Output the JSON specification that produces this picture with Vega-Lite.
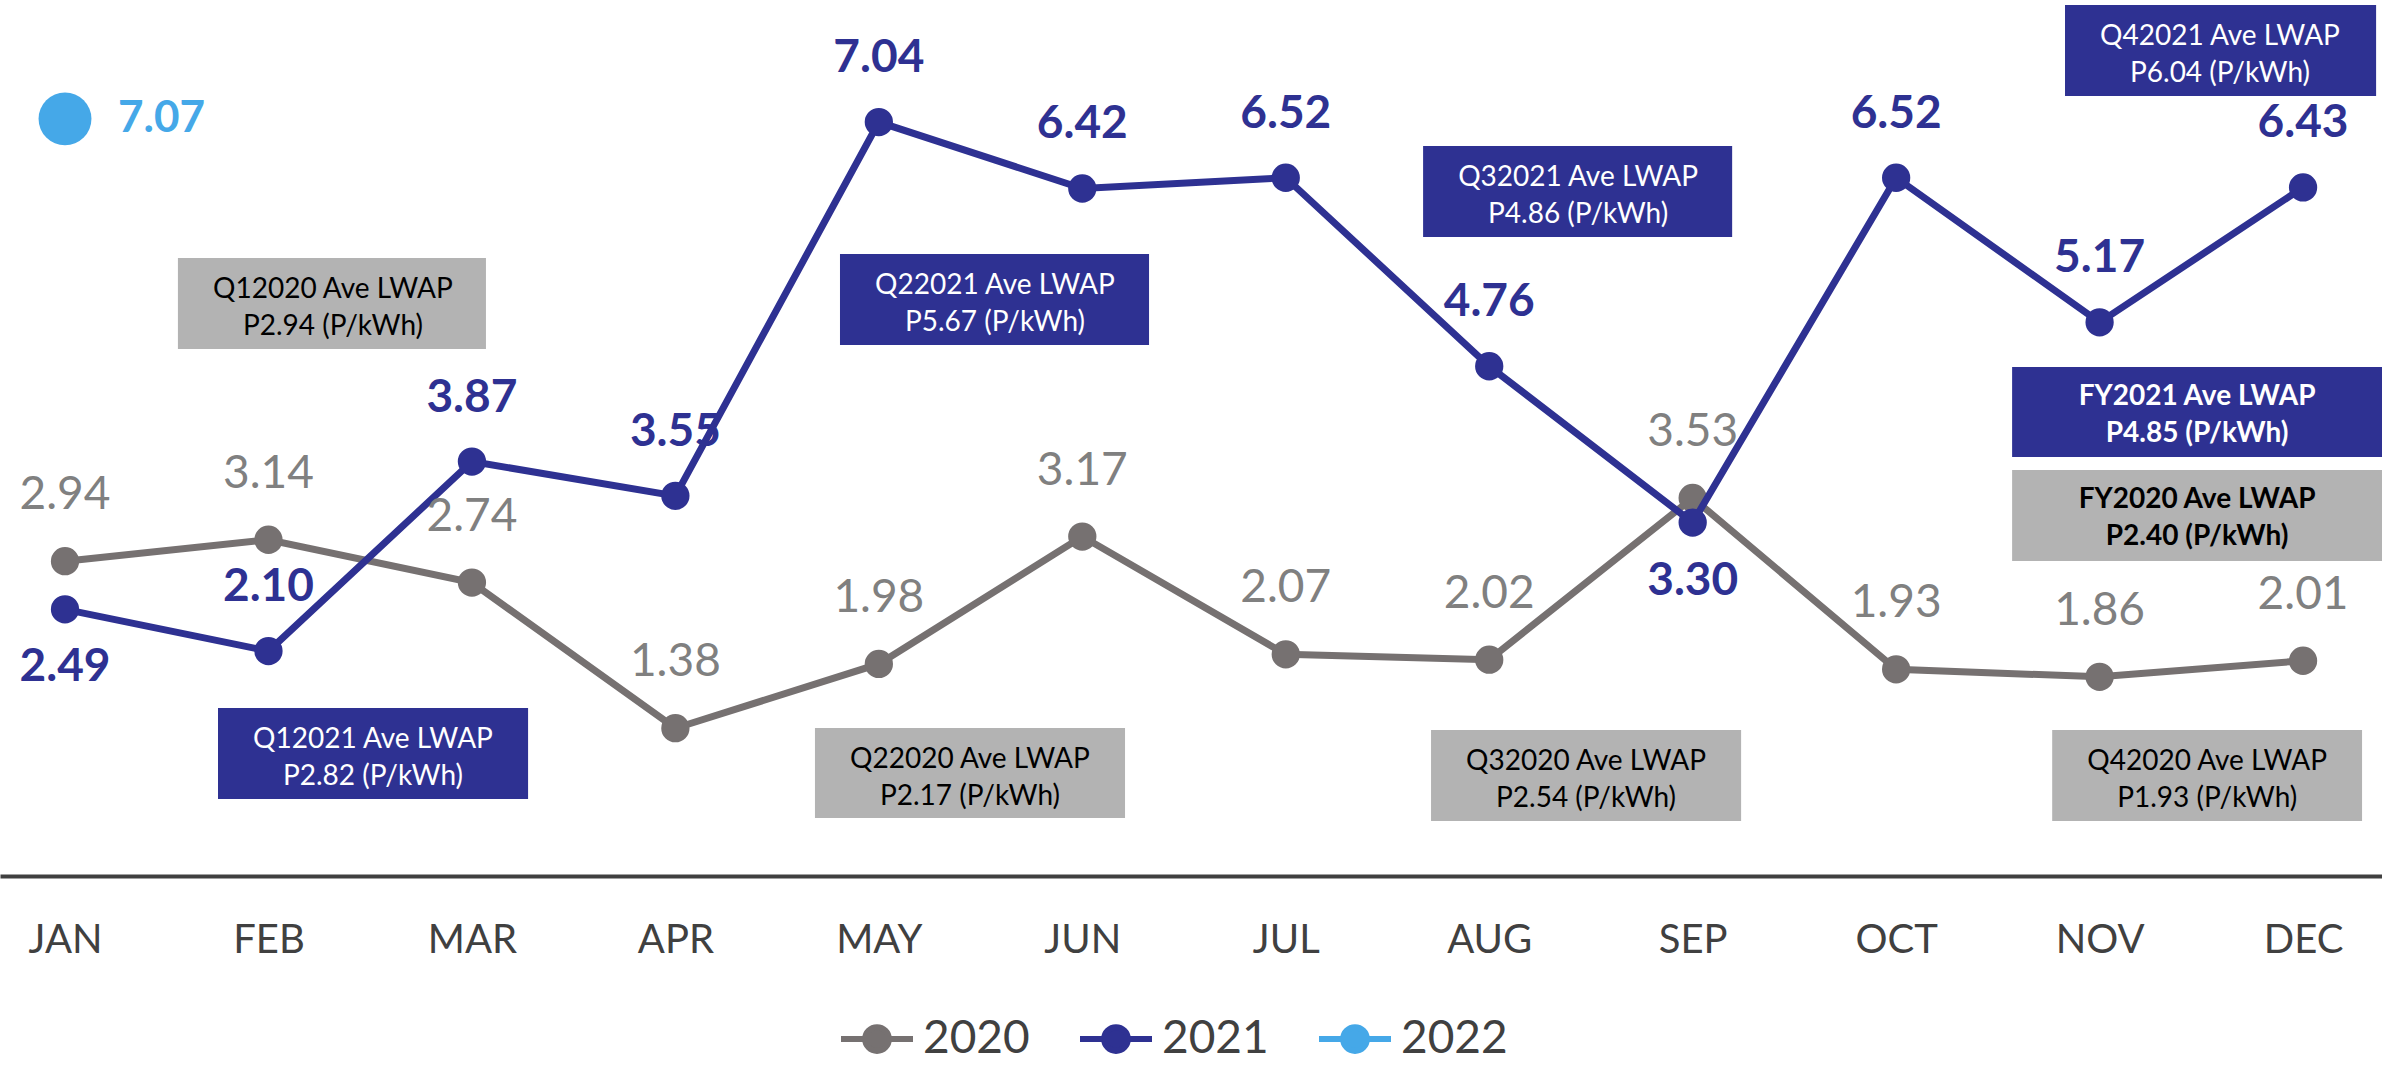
{
  "$schema": "https://vega.github.io/schema/vega-lite/v6.json",
  "width": 2382,
  "height": 876,
  "autosize": {"type": "none"},
  "padding": {"left": 0, "top": 0, "right": 0, "bottom": 191},
  "background": "white",
  "config": {
    "view": {"stroke": null},
    "font": "Lato",
    "axisX": {"ticks": false, "tickSize": 0, "grid": false, "domainColor": "#404040", "domainWidth": 4, "labelFontSize": 40, "labelColor": "#404040", "labelPadding": 64, "labelBaseline": "middle", "labelFont": "Lato"}
  },
  "datasets": {
    "series": [
      {"year": "2020", "m": 1, "v": 2.94}, {"year": "2020", "m": 2, "v": 3.14}, {"year": "2020", "m": 3, "v": 2.74},
      {"year": "2020", "m": 4, "v": 1.38}, {"year": "2020", "m": 5, "v": 1.98}, {"year": "2020", "m": 6, "v": 3.17},
      {"year": "2020", "m": 7, "v": 2.07}, {"year": "2020", "m": 8, "v": 2.02}, {"year": "2020", "m": 9, "v": 3.53},
      {"year": "2020", "m": 10, "v": 1.93}, {"year": "2020", "m": 11, "v": 1.86}, {"year": "2020", "m": 12, "v": 2.01},
      {"year": "2021", "m": 1, "v": 2.49}, {"year": "2021", "m": 2, "v": 2.10}, {"year": "2021", "m": 3, "v": 3.87},
      {"year": "2021", "m": 4, "v": 3.55}, {"year": "2021", "m": 5, "v": 7.04}, {"year": "2021", "m": 6, "v": 6.42},
      {"year": "2021", "m": 7, "v": 6.52}, {"year": "2021", "m": 8, "v": 4.76}, {"year": "2021", "m": 9, "v": 3.30},
      {"year": "2021", "m": 10, "v": 6.52}, {"year": "2021", "m": 11, "v": 5.17}, {"year": "2021", "m": 12, "v": 6.43},
      {"year": "2022", "m": 1, "v": 7.07}
    ],
    "boxes": [
      {"kind": "2020", "period": "Q", "label": "Q12020 Ave LWAP\nP2.94 (P/kWh)", "x1": 1.555, "x2": 3.069, "y1": 5.77, "y2": 4.92},
      {"kind": "2021", "period": "Q", "label": "Q12021 Ave LWAP\nP2.82 (P/kWh)", "x1": 1.752, "x2": 3.276, "y1": 1.569, "y2": 0.719},
      {"kind": "2020", "period": "Q", "label": "Q22020 Ave LWAP\nP2.17 (P/kWh)", "x1": 4.686, "x2": 6.21, "y1": 1.382, "y2": 0.542},
      {"kind": "2021", "period": "Q", "label": "Q22021 Ave LWAP\nP5.67 (P/kWh)", "x1": 4.809, "x2": 6.328, "y1": 5.808, "y2": 4.958},
      {"kind": "2020", "period": "Q", "label": "Q32020 Ave LWAP\nP2.54 (P/kWh)", "x1": 7.714, "x2": 9.238, "y1": 1.363, "y2": 0.514},
      {"kind": "2021", "period": "Q", "label": "Q32021 Ave LWAP\nP4.86 (P/kWh)", "x1": 7.675, "x2": 9.194, "y1": 6.816, "y2": 5.966},
      {"kind": "2020", "period": "Q", "label": "Q42020 Ave LWAP\nP1.93 (P/kWh)", "x1": 10.767, "x2": 12.29, "y1": 1.363, "y2": 0.514},
      {"kind": "2021", "period": "Q", "label": "Q42021 Ave LWAP\nP6.04 (P/kWh)", "x1": 10.83, "x2": 12.359, "y1": 8.133, "y2": 7.283},
      {"kind": "2021", "period": "FY", "label": "FY2021 Ave LWAP\nP4.85 (P/kWh)", "x1": 10.57, "x2": 12.388, "y1": 4.753, "y2": 3.912},
      {"kind": "2020", "period": "FY", "label": "FY2020 Ave LWAP\nP2.40 (P/kWh)", "x1": 10.57, "x2": 12.388, "y1": 3.791, "y2": 2.941}
    ]
  },
  "layer": [
    {
      "data": {"name": "boxes"},
      "mark": {"type": "rect"},
      "encoding": {
        "x": {"field": "x1", "type": "quantitative", "scale": {"domain": [0.6805, 12.388], "nice": false, "zero": false}, "axis": {"values": [1,2,3,4,5,6,7,8,9,10,11,12], "labelExpr": "['JAN','FEB','MAR','APR','MAY','JUN','JUL','AUG','SEP','OCT','NOV','DEC'][datum.value-1]", "title": null}},
        "x2": {"field": "x2"},
        "y": {"field": "y1", "type": "quantitative", "scale": {"domain": [0, 8.18], "nice": false, "zero": false}, "axis": null},
        "y2": {"field": "y2"},
        "color": {"condition": {"test": "datum.kind == '2021'", "value": "#2E3192"}, "value": "#B3B3B3"}
      }
    },
    {
      "data": {"name": "boxes"},
      "transform": [{"filter": "datum.period == 'Q'"}],
      "mark": {"type": "text", "fontSize": 28, "lineHeight": 37, "lineBreak": "\n", "align": "center", "baseline": "middle", "font": "Lato", "dx": 155, "dy": 32},
      "encoding": {
        "x": {"field": "x1", "type": "quantitative", "scale": {"domain": [0.6805, 12.388], "nice": false, "zero": false}, "axis": {"values": [1,2,3,4,5,6,7,8,9,10,11,12], "labelExpr": "['JAN','FEB','MAR','APR','MAY','JUN','JUL','AUG','SEP','OCT','NOV','DEC'][datum.value-1]", "title": null}},
        "y": {"field": "y1", "type": "quantitative", "scale": {"domain": [0, 8.18], "nice": false, "zero": false}, "axis": null},
        "text": {"field": "label"},
        "color": {"condition": {"test": "datum.kind == '2021'", "value": "white"}, "value": "black"}
      }
    },
    {
      "data": {"name": "boxes"},
      "transform": [{"filter": "datum.period == 'FY'"}],
      "mark": {"type": "text", "fontSize": 28, "fontWeight": "bold", "lineHeight": 37, "lineBreak": "\n", "align": "center", "baseline": "middle", "font": "Lato", "dx": 185, "dy": 30},
      "encoding": {
        "x": {"field": "x1", "type": "quantitative", "scale": {"domain": [0.6805, 12.388], "nice": false, "zero": false}, "axis": {"values": [1,2,3,4,5,6,7,8,9,10,11,12], "labelExpr": "['JAN','FEB','MAR','APR','MAY','JUN','JUL','AUG','SEP','OCT','NOV','DEC'][datum.value-1]", "title": null}},
        "y": {"field": "y1", "type": "quantitative", "scale": {"domain": [0, 8.18], "nice": false, "zero": false}, "axis": null},
        "text": {"field": "label"},
        "color": {"condition": {"test": "datum.kind == '2021'", "value": "white"}, "value": "black"}
      }
    },
    {
      "data": {"name": "series"},
      "transform": [{"filter": "datum.year == '2020'"}],
      "mark": {"type": "line", "strokeWidth": 7},
      "encoding": {
        "x": {"field": "m", "type": "quantitative", "scale": {"domain": [0.6805, 12.388], "nice": false, "zero": false}, "axis": {"values": [1,2,3,4,5,6,7,8,9,10,11,12], "labelExpr": "['JAN','FEB','MAR','APR','MAY','JUN','JUL','AUG','SEP','OCT','NOV','DEC'][datum.value-1]", "title": null}},
        "y": {"field": "v", "type": "quantitative", "scale": {"domain": [0, 8.18], "nice": false, "zero": false}, "axis": null},
        "color": {"field": "year", "type": "nominal", "scale": {"domain": ["2020", "2021", "2022"], "range": ["#767171", "#2E3192", "#45A8E8"]},
          "legend": {"orient": "none", "legendX": 838, "legendY": 1000, "direction": "horizontal", "title": null, "symbolType": "M-1,0H1M-0.33,0A0.33,0.33,0,1,1,0.33,0A0.33,0.33,0,1,1,-0.33,0Z", "symbolSize": 5184, "symbolStrokeWidth": 6, "labelFontSize": 46, "labelColor": "#404040", "labelFont": "Lato", "labelOffset": 7, "columnPadding": 38, "labelLimit": 400, "padding": 0,
            "encode": {"symbols": {"update": {"fill": {"scale": "color", "field": "value"}, "stroke": {"scale": "color", "field": "value"}, "strokeWidth": {"value": 6}, "opacity": {"value": 1}}}}}}
      }
    },
    {
      "data": {"name": "series"},
      "transform": [{"filter": "datum.year == '2020'"}],
      "mark": {"type": "circle", "size": 800, "opacity": 1},
      "encoding": {
        "x": {"field": "m", "type": "quantitative", "scale": {"domain": [0.6805, 12.388], "nice": false, "zero": false}, "axis": {"values": [1,2,3,4,5,6,7,8,9,10,11,12], "labelExpr": "['JAN','FEB','MAR','APR','MAY','JUN','JUL','AUG','SEP','OCT','NOV','DEC'][datum.value-1]", "title": null}},
        "y": {"field": "v", "type": "quantitative", "scale": {"domain": [0, 8.18], "nice": false, "zero": false}, "axis": null},
        "color": {"field": "year", "type": "nominal", "scale": {"domain": ["2020", "2021", "2022"], "range": ["#767171", "#2E3192", "#45A8E8"]},
          "legend": {"orient": "none", "legendX": 838, "legendY": 1000, "direction": "horizontal", "title": null, "symbolType": "M-1,0H1M-0.33,0A0.33,0.33,0,1,1,0.33,0A0.33,0.33,0,1,1,-0.33,0Z", "symbolSize": 5184, "symbolStrokeWidth": 6, "labelFontSize": 46, "labelColor": "#404040", "labelFont": "Lato", "labelOffset": 7, "columnPadding": 38, "labelLimit": 400, "padding": 0,
            "encode": {"symbols": {"update": {"fill": {"scale": "color", "field": "value"}, "stroke": {"scale": "color", "field": "value"}, "strokeWidth": {"value": 6}, "opacity": {"value": 1}}}}}}
      }
    },
    {
      "data": {"name": "series"},
      "transform": [{"filter": "datum.year == '2021'"}],
      "mark": {"type": "line", "strokeWidth": 7},
      "encoding": {
        "x": {"field": "m", "type": "quantitative", "scale": {"domain": [0.6805, 12.388], "nice": false, "zero": false}, "axis": {"values": [1,2,3,4,5,6,7,8,9,10,11,12], "labelExpr": "['JAN','FEB','MAR','APR','MAY','JUN','JUL','AUG','SEP','OCT','NOV','DEC'][datum.value-1]", "title": null}},
        "y": {"field": "v", "type": "quantitative", "scale": {"domain": [0, 8.18], "nice": false, "zero": false}, "axis": null},
        "color": {"field": "year", "type": "nominal", "scale": {"domain": ["2020", "2021", "2022"], "range": ["#767171", "#2E3192", "#45A8E8"]},
          "legend": {"orient": "none", "legendX": 838, "legendY": 1000, "direction": "horizontal", "title": null, "symbolType": "M-1,0H1M-0.33,0A0.33,0.33,0,1,1,0.33,0A0.33,0.33,0,1,1,-0.33,0Z", "symbolSize": 5184, "symbolStrokeWidth": 6, "labelFontSize": 46, "labelColor": "#404040", "labelFont": "Lato", "labelOffset": 7, "columnPadding": 38, "labelLimit": 400, "padding": 0,
            "encode": {"symbols": {"update": {"fill": {"scale": "color", "field": "value"}, "stroke": {"scale": "color", "field": "value"}, "strokeWidth": {"value": 6}, "opacity": {"value": 1}}}}}}
      }
    },
    {
      "data": {"name": "series"},
      "transform": [{"filter": "datum.year != '2020'"}],
      "mark": {"type": "circle", "opacity": 1},
      "encoding": {
        "x": {"field": "m", "type": "quantitative", "scale": {"domain": [0.6805, 12.388], "nice": false, "zero": false}, "axis": {"values": [1,2,3,4,5,6,7,8,9,10,11,12], "labelExpr": "['JAN','FEB','MAR','APR','MAY','JUN','JUL','AUG','SEP','OCT','NOV','DEC'][datum.value-1]", "title": null}},
        "y": {"field": "v", "type": "quantitative", "scale": {"domain": [0, 8.18], "nice": false, "zero": false}, "axis": null},
        "size": {"condition": {"test": "datum.year == '2022'", "value": 2800}, "value": 800},
        "color": {"field": "year", "type": "nominal", "scale": {"domain": ["2020", "2021", "2022"], "range": ["#767171", "#2E3192", "#45A8E8"]},
          "legend": {"orient": "none", "legendX": 838, "legendY": 1000, "direction": "horizontal", "title": null, "symbolType": "M-1,0H1M-0.33,0A0.33,0.33,0,1,1,0.33,0A0.33,0.33,0,1,1,-0.33,0Z", "symbolSize": 5184, "symbolStrokeWidth": 6, "labelFontSize": 46, "labelColor": "#404040", "labelFont": "Lato", "labelOffset": 7, "columnPadding": 38, "labelLimit": 400, "padding": 0,
            "encode": {"symbols": {"update": {"fill": {"scale": "color", "field": "value"}, "stroke": {"scale": "color", "field": "value"}, "strokeWidth": {"value": 6}, "opacity": {"value": 1}}}}}}
      }
    },
    {
      "data": {"name": "series"},
      "transform": [{"filter": "datum.year == '2020'"}],
      "mark": {"type": "text", "fontSize": 46, "color": "#808080", "dy": -66, "align": "center", "baseline": "middle", "font": "Lato"},
      "encoding": {
        "x": {"field": "m", "type": "quantitative", "scale": {"domain": [0.6805, 12.388], "nice": false, "zero": false}, "axis": {"values": [1,2,3,4,5,6,7,8,9,10,11,12], "labelExpr": "['JAN','FEB','MAR','APR','MAY','JUN','JUL','AUG','SEP','OCT','NOV','DEC'][datum.value-1]", "title": null}},
        "y": {"field": "v", "type": "quantitative", "scale": {"domain": [0, 8.18], "nice": false, "zero": false}, "axis": null},
        "text": {"field": "v", "type": "quantitative", "format": ".2f"}
      }
    },
    {
      "data": {"name": "series"},
      "transform": [{"filter": "datum.year == '2021' && datum.m != 1 && datum.m != 9"}],
      "mark": {"type": "text", "fontSize": 46, "fontWeight": "bold", "color": "#2E3192", "dy": -64, "align": "center", "baseline": "middle", "font": "Lato"},
      "encoding": {
        "x": {"field": "m", "type": "quantitative", "scale": {"domain": [0.6805, 12.388], "nice": false, "zero": false}, "axis": {"values": [1,2,3,4,5,6,7,8,9,10,11,12], "labelExpr": "['JAN','FEB','MAR','APR','MAY','JUN','JUL','AUG','SEP','OCT','NOV','DEC'][datum.value-1]", "title": null}},
        "y": {"field": "v", "type": "quantitative", "scale": {"domain": [0, 8.18], "nice": false, "zero": false}, "axis": null},
        "text": {"field": "v", "type": "quantitative", "format": ".2f"}
      }
    },
    {
      "data": {"name": "series"},
      "transform": [{"filter": "datum.year == '2021' && (datum.m == 1 || datum.m == 9)"}],
      "mark": {"type": "text", "fontSize": 46, "fontWeight": "bold", "color": "#2E3192", "dy": 58, "align": "center", "baseline": "middle", "font": "Lato"},
      "encoding": {
        "x": {"field": "m", "type": "quantitative", "scale": {"domain": [0.6805, 12.388], "nice": false, "zero": false}, "axis": {"values": [1,2,3,4,5,6,7,8,9,10,11,12], "labelExpr": "['JAN','FEB','MAR','APR','MAY','JUN','JUL','AUG','SEP','OCT','NOV','DEC'][datum.value-1]", "title": null}},
        "y": {"field": "v", "type": "quantitative", "scale": {"domain": [0, 8.18], "nice": false, "zero": false}, "axis": null},
        "text": {"field": "v", "type": "quantitative", "format": ".2f"}
      }
    },
    {
      "data": {"name": "series"},
      "transform": [{"filter": "datum.year == '2022'"}],
      "mark": {"type": "text", "fontSize": 44, "fontWeight": "bold", "color": "#45A8E8", "dx": 53, "align": "left", "baseline": "middle", "font": "Lato"},
      "encoding": {
        "x": {"field": "m", "type": "quantitative", "scale": {"domain": [0.6805, 12.388], "nice": false, "zero": false}, "axis": {"values": [1,2,3,4,5,6,7,8,9,10,11,12], "labelExpr": "['JAN','FEB','MAR','APR','MAY','JUN','JUL','AUG','SEP','OCT','NOV','DEC'][datum.value-1]", "title": null}},
        "y": {"field": "v", "type": "quantitative", "scale": {"domain": [0, 8.18], "nice": false, "zero": false}, "axis": null},
        "text": {"field": "v", "type": "quantitative", "format": ".2f"}
      }
    }
  ]
}
